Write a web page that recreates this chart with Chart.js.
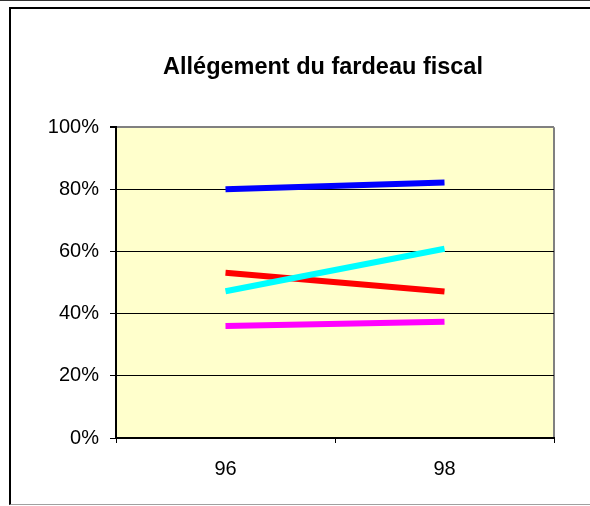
<!DOCTYPE html>
<html>
<head>
<meta charset="utf-8">
<script src="https://cdn.jsdelivr.net/npm/chart.js@4.4.1/dist/chart.umd.min.js"></script>
<style>
  body { margin: 0; background: #fff; }
  #wrap { position: relative; width: 590px; height: 506px; overflow: hidden; }
  #topline { position: absolute; left: 0; top: 0; width: 590px; height: 1px; background: #333; }
  #frame { position: absolute; left: 9px; top: 7px; width: 600px; height: 495px;
           border-left: 2px solid #000; border-top: 2px solid #000; border-bottom: 1px solid #a0a0a0; }
  canvas { position: absolute; left: 0; top: 0; }
</style>
</head>
<body>
<div id="wrap">
  <div id="topline"></div>
  <div id="frame"></div>
  <canvas id="chart" width="602" height="506"></canvas>
</div>
<script>
const years = ['96', '98'];
const blueSeries = [80, 82.2];
const cyanSeries = [47.2, 60.9];
const redSeries = [53.2, 47.1];
const magentaSeries = [36, 37.4];
const yTicks = [0, 20, 40, 60, 80, 100];

const fontFamily = '"Liberation Sans", Arial, sans-serif';

// Yellow plot area with grey right edge
const plotBackground = {
  id: 'plotBackground',
  beforeDraw(chart) {
    const { ctx, chartArea: a } = chart;
    ctx.save();
    ctx.fillStyle = '#FFFFCC';
    ctx.fillRect(a.left, a.top, a.right - a.left, a.bottom - a.top);
    ctx.strokeStyle = '#808080';
    ctx.lineWidth = 2;
    ctx.beginPath();
    ctx.moveTo(a.right, a.top);
    ctx.lineTo(a.right, a.bottom);
    ctx.stroke();
    ctx.restore();
  }
};

function line(data, color) {
  return {
    data: data,
    borderColor: color,
    backgroundColor: color,
    borderWidth: 6,
    pointRadius: 0,
    fill: false,
    tension: 0
  };
}

new Chart(document.getElementById('chart').getContext('2d'), {
  type: 'line',
  data: {
    labels: years,
    datasets: [
      line(blueSeries, '#0000FF'),
      line(cyanSeries, '#00FFFF'),
      line(redSeries, '#FF0000'),
      line(magentaSeries, '#FF00FF')
    ]
  },
  options: {
    responsive: false,
    animation: false,
    layout: { padding: { left: 44, right: 0, top: 0, bottom: 11 } },
    plugins: {
      legend: { display: false },
      tooltip: { enabled: false },
      title: {
        display: true,
        text: 'Allégement du fardeau fiscal',
        color: '#000',
        font: { family: fontFamily, size: 23.5, weight: 'bold' },
        padding: { top: 53, bottom: 46 }
      }
    },
    scales: {
      x: {
        offset: true,
        grid: { offset: true, drawOnChartArea: false, color: '#000', tickLength: 5 },
        border: { color: '#000', width: 2 },
        ticks: { color: '#000', padding: 14, font: { family: fontFamily, size: 20 } }
      },
      y: {
        min: 0,
        max: 100,
        afterBuildTicks(scale) { scale.ticks = yTicks.map(v => ({ value: v })); },
        afterFit(scale) { scale.width = 72; },
        grid: {
          color: ctx => (ctx.tick && ctx.tick.value === 100 ? '#808080' : '#000'),
          lineWidth: ctx => (ctx.tick && ctx.tick.value === 100 ? 2 : 1),
          tickColor: '#000',
          tickLength: 6
        },
        border: { color: '#000', width: 2 },
        ticks: {
          color: '#000',
          padding: 11,
          font: { family: fontFamily, size: 20 },
          callback: v => v + '%'
        }
      },
      // empty right-side box so the title centres like the original
      spacer: {
        type: 'linear',
        position: 'right',
        display: true,
        grid: { display: false },
        border: { display: false },
        ticks: { display: false },
        afterFit(scale) { scale.width = 48; }
      }
    }
  },
  plugins: [plotBackground]
});
</script>
</body>
</html>
